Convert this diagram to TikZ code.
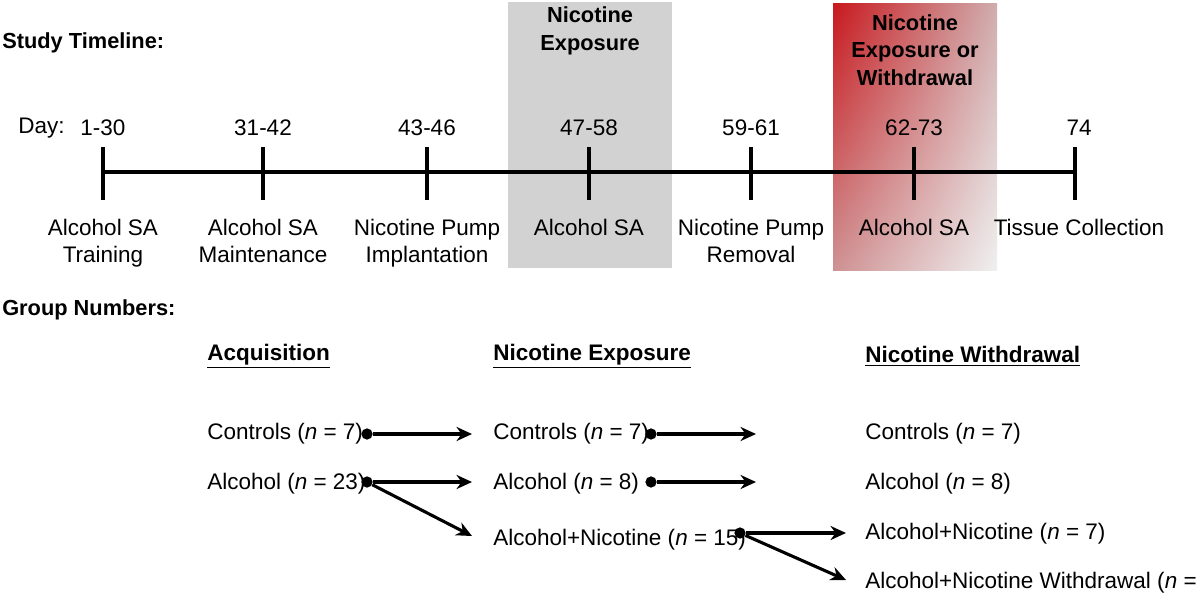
\documentclass[tikz,border=0pt]{standalone}
\usepackage{fontspec}
\setmainfont{Liberation Sans}
\usetikzlibrary{arrows.meta,shadings}
\definecolor{boxgray}{RGB}{210,210,210}
\definecolor{rd}{RGB}{200,25,30}
\begin{document}
\begin{tikzpicture}[x=0.025cm,y=-0.025cm,
  txt/.style={font=\fontsize{16}{19}\selectfont,inner sep=0pt,align=center},
  ltxt/.style={txt,anchor=west},
  hd/.style={font=\fontsize{15.5}{18}\selectfont\bfseries,inner sep=0pt,anchor=west},
  bx/.style={font=\fontsize{15.5}{19.5}\selectfont\bfseries,inner sep=0pt,align=center},
  uh/.style={hd,font=\fontsize{16}{19}\selectfont\bfseries},
  dot/.style={circle,fill=black,inner sep=0pt,minimum size=8pt},
  arr/.style={line width=2.2pt,-{Stealth[length=11pt,width=10pt]}},
  tk/.style={line width=2.4pt}]
\useasboundingbox (0,0) rectangle (1200,597);
\fill[boxgray] (508,2) rectangle (672,268);
\shade[upper left=rd, upper right=rd!20!boxgray, lower left=rd!35!boxgray, lower right=gray!12] (833,4) rectangle (997,270);
\node[bx] (gb) at (590,31) {Nicotine\\Exposure};
\node[bx] (rb) at (915,50) {Nicotine\\Exposure or\\Withdrawal};
\node[hd] (st) at (2,43) {Study Timeline:};
\node[hd] (gn) at (2,310) {Group Numbers:};
\node[ltxt] (day) at (18,128) {Day:};
\coordinate (L0) at (103,172); \coordinate (L1) at (1075,172);
\draw[tk] (L0) -- (L1);
\foreach \x/\d/\lab/\n in {103/1-30/{Alcohol SA\\Training}/a,263/31-42/{Alcohol SA\\Maintenance}/b,427/43-46/{Nicotine Pump\\Implantation}/c,589/47-58/{Alcohol SA}/d,751/59-61/{Nicotine Pump\\Removal}/e,914/62-73/{Alcohol SA}/f,1079/74/{Tissue Collection}/g}{
  \coordinate (t\n) at (\x,147); \coordinate (b\n) at (\x,200);
  \node[txt] (d\n) at (\x,128) {\d};
  \node[txt,anchor=north] (l\n) at (\x,219) {\lab};
}
\foreach \n in {a,b,c,d,e,f}{\draw[tk] (t\n) -- (b\n);}
\draw[tk] (1075,147) -- (1075,200);
\node[uh] (h1) at (207,356) {\underline{Acquisition}};
\node[uh] (h2) at (493,356) {\underline{Nicotine Exposure}};
\node[uh] (h3) at (865,356) {\underline{Nicotine Withdrawal}};
\node[ltxt] (c1) at (207,434) {Controls (\textit{n} = 7)};
\node[ltxt] (a1) at (207,484) {Alcohol (\textit{n} = 23)};
\node[ltxt] (c2) at (493,434) {Controls (\textit{n} = 7)};
\node[ltxt] (a2) at (493,484) {Alcohol (\textit{n} = 8)};
\node[ltxt] (an2) at (493,540) {Alcohol+Nicotine (\textit{n} = 15)};
\node[ltxt] (c3) at (865,434) {Controls (\textit{n} = 7)};
\node[ltxt] (a3) at (865,484) {Alcohol (\textit{n} = 8)};
\node[ltxt] (an3) at (865,534) {Alcohol+Nicotine (\textit{n} = 7)};
\node[ltxt] (w3) at (865,583) {Alcohol+Nicotine Withdrawal (\textit{n} = 8)};
\node[dot] (p1) at (367,434) {}; \node[dot] (p2) at (367,482) {};
\node[dot] (p3) at (651,434) {}; \node[dot] (p4) at (651,482) {};
\node[dot] (p5) at (740,533) {};
\coordinate (e1) at (472,434); \coordinate (e2) at (472,482); \coordinate (e3) at (472,536);
\coordinate (e4) at (756,434); \coordinate (e5) at (756,482);
\coordinate (e6) at (846,533); \coordinate (e7) at (846,580);
\draw[arr] (p1) -- (e1); \draw[arr] (p2) -- (e2); \draw[arr] (p2) -- (e3);
\draw[arr] (p3) -- (e4); \draw[arr] (p4) -- (e5);
\draw[arr] (p5) -- (e6); \draw[arr] (p5) -- (e7);
\end{tikzpicture}
\end{document}
